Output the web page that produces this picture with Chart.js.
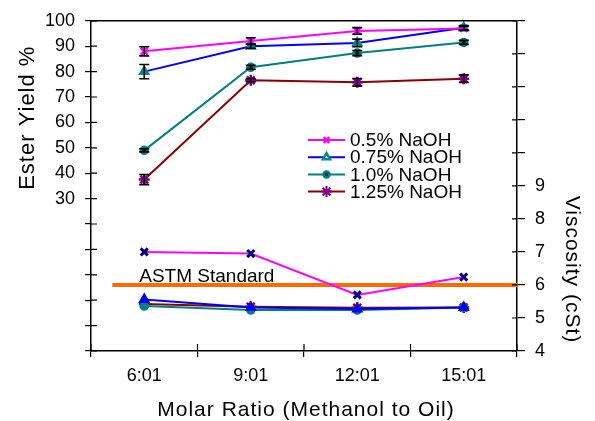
<!DOCTYPE html>
<html>
<head>
<meta charset="utf-8">
<script src="https://cdn.jsdelivr.net/npm/chart.js@4.4.1/dist/chart.umd.min.js"></script>
<style>
  html, body { margin: 0; padding: 0; background: #fff; }
  #wrap { width: 595px; height: 421px; }
</style>
</head>
<body>
<div id="wrap"><canvas id="esterChart" width="595" height="421"></canvas></div>
<script>
const molarRatios = ['6:01', '9:01', '12:01', '15:01'];
const seriesNames = ['0.5% NaOH', '0.75% NaOH', '1.0% NaOH', '1.25% NaOH'];

// ester yield (%) and error bars
const yield05 = [88, 92, 96, 97];
const yield075 = [80, 90, 91.3, 97.3];
const yield10 = [49, 81.7, 87.3, 91.5];
const yield125 = [37.5, 76.6, 75.8, 77.2];
const yieldErr05 = [1.8, 1.3, 1.3, 0.8];
const yieldErr075 = [2.8, 0.8, 1.5, 0.8];
const yieldErr10 = [0.6, 0.8, 1.0, 0.8];
const yieldErr125 = [2.0, 0.6, 1.5, 1.5];

// viscosity (cSt)
const visc05 = [7.0, 6.95, 5.7, 6.24];
const visc075 = [5.56, 5.32, 5.27, 5.32];
const visc10 = [5.36, 5.24, 5.24, 5.32];
const visc125 = [5.42, 5.34, 5.31, 5.32];
const astmLimit = 6;

const yieldTicks = [30, 40, 50, 60, 70, 80, 90, 100];
const viscTicks = [4, 5, 6, 7, 8, 9];

const FONT = 'Liberation Sans, Arial, Helvetica, sans-serif';

function series(label, data, yAxisID, line, mark, style, extra) {
    return Object.assign({
        label: label,
        data: data,
        yAxisID: yAxisID,
        xAxisID: 'x',
        borderColor: line,
        borderWidth: 2,
        pointStyle: style,
        pointRadius: 5,
        pointBorderColor: mark,
        pointBackgroundColor: mark,
        pointBorderWidth: 2.5,
        tension: 0,
        fill: false,
        clip: false
    }, extra || {});
}

const yieldErrors = [yieldErr05, yieldErr075, yieldErr10, yieldErr125];

const datasets = [
    series(seriesNames[0], yield05, 'yE', '#ff00ff', '#ff00ff', 'crossRot'),
    series(seriesNames[1], yield075, 'yE', '#0000ff', '#008b8b', 'triangle', { pointRadius: 4.5 }),
    series(seriesNames[2], yield10, 'yE', '#008080', '#008080', 'circle', { pointRadius: 3.5, pointBackgroundColor: '#0a2a2a' }),
    series(seriesNames[3], yield125, 'yE', '#8b0000', '#800080', 'star', { pointRadius: 5.5 }),
    series('visc 0.5', visc05, 'yV', '#ff00ff', '#000080', 'crossRot', { pointBorderWidth: 3 }),
    series('visc 0.75', visc075, 'yV', '#0000ff', '#0000ff', 'triangle', { pointRadius: 4.5 }),
    series('visc 1.0', visc10, 'yV', '#008080', '#008080', 'circle', { pointRadius: 3.5 }),
    series('visc 1.25', visc125, 'yV', '#8b0000', '#8b0000', 'star', { pointRadius: 5.5 }),
    {
        label: 'ASTM Standard',
        data: [{ x: -0.3, y: astmLimit }, { x: 3.5, y: astmLimit }],
        xAxisID: 'x2',
        yAxisID: 'yV',
        borderColor: '#ff6a00',
        borderWidth: 4,
        pointRadius: 0,
        clip: false,
        order: 10
    }
];

/* ---------------- error bars ---------------- */
const errorBars = {
    id: 'errorBars',
    afterDatasetsDraw(chart) {
        const ctx = chart.ctx;
        const yE = chart.scales.yE;
        ctx.save();
        ctx.strokeStyle = '#000';
        ctx.lineWidth = 1.6;
        yieldErrors.forEach((errs, i) => {
            const meta = chart.getDatasetMeta(i);
            const vals = chart.data.datasets[i].data;
            meta.data.forEach((pt, j) => {
                const top = yE.getPixelForValue(vals[j] + errs[j]);
                const bot = yE.getPixelForValue(vals[j] - errs[j]);
                ctx.beginPath();
                ctx.moveTo(pt.x, top); ctx.lineTo(pt.x, bot);
                ctx.moveTo(pt.x - 5, top); ctx.lineTo(pt.x + 5, top);
                ctx.moveTo(pt.x - 5, bot); ctx.lineTo(pt.x + 5, bot);
                ctx.stroke();
            });
        });
        ctx.restore();
    }
};

/* ---------------- frame, inner ticks, titles, legend ---------------- */
const decorations = {
    id: 'decorations',
    afterDraw(chart) {
        const { ctx, chartArea: a, scales } = chart;
        ctx.save();
        ctx.strokeStyle = '#000';
        ctx.lineWidth = 1.5;
        ctx.beginPath();
        ctx.moveTo(a.left, a.top); ctx.lineTo(a.right, a.top);
        ctx.stroke();

        // ticks reaching into the plot
        ctx.lineWidth = 1.2;
        ctx.beginPath();
        scales.yE.ticks.forEach((t, i) => {
            const y = scales.yE.getPixelForTick(i);
            ctx.moveTo(a.left, y); ctx.lineTo(a.left + 6, y);
        });
        scales.yV.ticks.forEach((t, i) => {
            const y = scales.yV.getPixelForTick(i);
            ctx.moveTo(a.right - 5, y); ctx.lineTo(a.right, y);
        });
        for (let i = 0; i <= molarRatios.length; i++) {
            const x = scales.x.getPixelForValue(i - 0.5);
            ctx.moveTo(x, a.bottom); ctx.lineTo(x, a.bottom - 7);
        }
        ctx.stroke();

        // axis titles
        ctx.fillStyle = '#000';
        ctx.font = '21px ' + FONT;
        ctx.textAlign = 'center';
        ctx.textBaseline = 'alphabetic';
        if ('letterSpacing' in ctx) ctx.letterSpacing = '1px';
        ctx.fillText('Molar Ratio (Methanol to Oil)', (a.left + a.right) / 2 + 2, 416);

        ctx.save();
        ctx.font = '22px ' + FONT;
        ctx.translate(34, (scales.yE.getPixelForValue(100) + scales.yE.getPixelForValue(30)) / 2 + 8);
        ctx.rotate(-Math.PI / 2);
        ctx.fillText('Ester Yield %', 0, 0);
        ctx.restore();

        ctx.save();
        ctx.translate(566, (scales.yV.getPixelForValue(4) + scales.yV.getPixelForValue(9)) / 2 + 1);
        ctx.rotate(Math.PI / 2);
        ctx.fillText('Viscosity (cSt)', 0, 0);
        ctx.restore();
        if ('letterSpacing' in ctx) ctx.letterSpacing = '0px';

        // ASTM label
        ctx.font = '19px ' + FONT;
        ctx.textAlign = 'left';
        ctx.fillText('ASTM Standard', scales.x.getPixelForValue(0) - 5, scales.yV.getPixelForValue(astmLimit) - 3);

        // legend
        const lx = 308, ly = 140, step = 17.2;
        ctx.font = '19px ' + FONT;
        ctx.textBaseline = 'middle';
        seriesNames.forEach((name, i) => {
            const ds = chart.data.datasets[i];
            const y = ly + i * step;
            ctx.strokeStyle = ds.borderColor;
            ctx.lineWidth = 2;
            ctx.beginPath(); ctx.moveTo(lx, y); ctx.lineTo(lx + 37, y); ctx.stroke();
            if (Chart.helpers && Chart.helpers.drawPoint) {
                ctx.strokeStyle = ds.pointBorderColor;
                ctx.fillStyle = i === 1 ? '#ffffff' : ds.pointBackgroundColor;
                ctx.lineWidth = i === 3 ? 2 : ds.pointBorderWidth;
                Chart.helpers.drawPoint(ctx, {
                    pointStyle: ds.pointStyle,
                    radius: i === 2 ? 3 : (i === 3 ? 5.5 : 4),
                    rotation: 0,
                    borderWidth: i === 3 ? 2 : ds.pointBorderWidth
                }, lx + 18.5, y);
            }
            ctx.fillStyle = '#000';
            ctx.fillText(name, lx + 42, y + 1);
        });
        ctx.restore();
    }
};

const axisLine = { display: true, color: '#000', width: 1.5 };

new Chart(document.getElementById('esterChart'), {
    type: 'line',
    data: { labels: molarRatios, datasets: datasets },
    options: {
        responsive: false,
        animation: false,
        devicePixelRatio: 1,
        layout: { padding: { top: 20, left: 0, right: 0, bottom: 0 } },
        plugins: {
            legend: { display: false },
            tooltip: { enabled: false }
        },
        scales: {
            x: {
                type: 'category',
                offset: true,
                border: axisLine,
                grid: { offset: true, drawOnChartArea: false, color: '#000', lineWidth: 1.2, tickLength: 6 },
                ticks: { color: '#000', font: { family: FONT, size: 18 }, padding: 8, maxRotation: 0 },
                afterFit: (s) => { s.height = 70; }
            },
            x2: {
                type: 'linear',
                display: false,
                min: -0.5,
                max: 3.5
            },
            yE: {
                type: 'linear',
                position: 'left',
                min: -30,
                max: 100,
                border: axisLine,
                grid: { drawOnChartArea: false, color: '#000', lineWidth: 1.2, tickLength: 6 },
                ticks: {
                    stepSize: 10,
                    color: '#000',
                    padding: 10,
                    font: { family: FONT, size: 18 },
                    callback: (v) => yieldTicks.includes(v) ? String(v) : ''
                },
                afterFit: (s) => { s.width = 91; }
            },
            yV: {
                type: 'linear',
                position: 'right',
                min: 4,
                max: 14,
                border: axisLine,
                grid: { drawOnChartArea: false, color: '#000', lineWidth: 1.2, tickLength: 8 },
                ticks: {
                    stepSize: 1,
                    color: '#000',
                    padding: 10,
                    font: { family: FONT, size: 18 },
                    callback: (v) => viscTicks.includes(v) ? String(v) : ''
                },
                afterFit: (s) => { s.width = 78; }
            }
        }
    },
    plugins: [errorBars, decorations]
});
</script>
</body>
</html>
